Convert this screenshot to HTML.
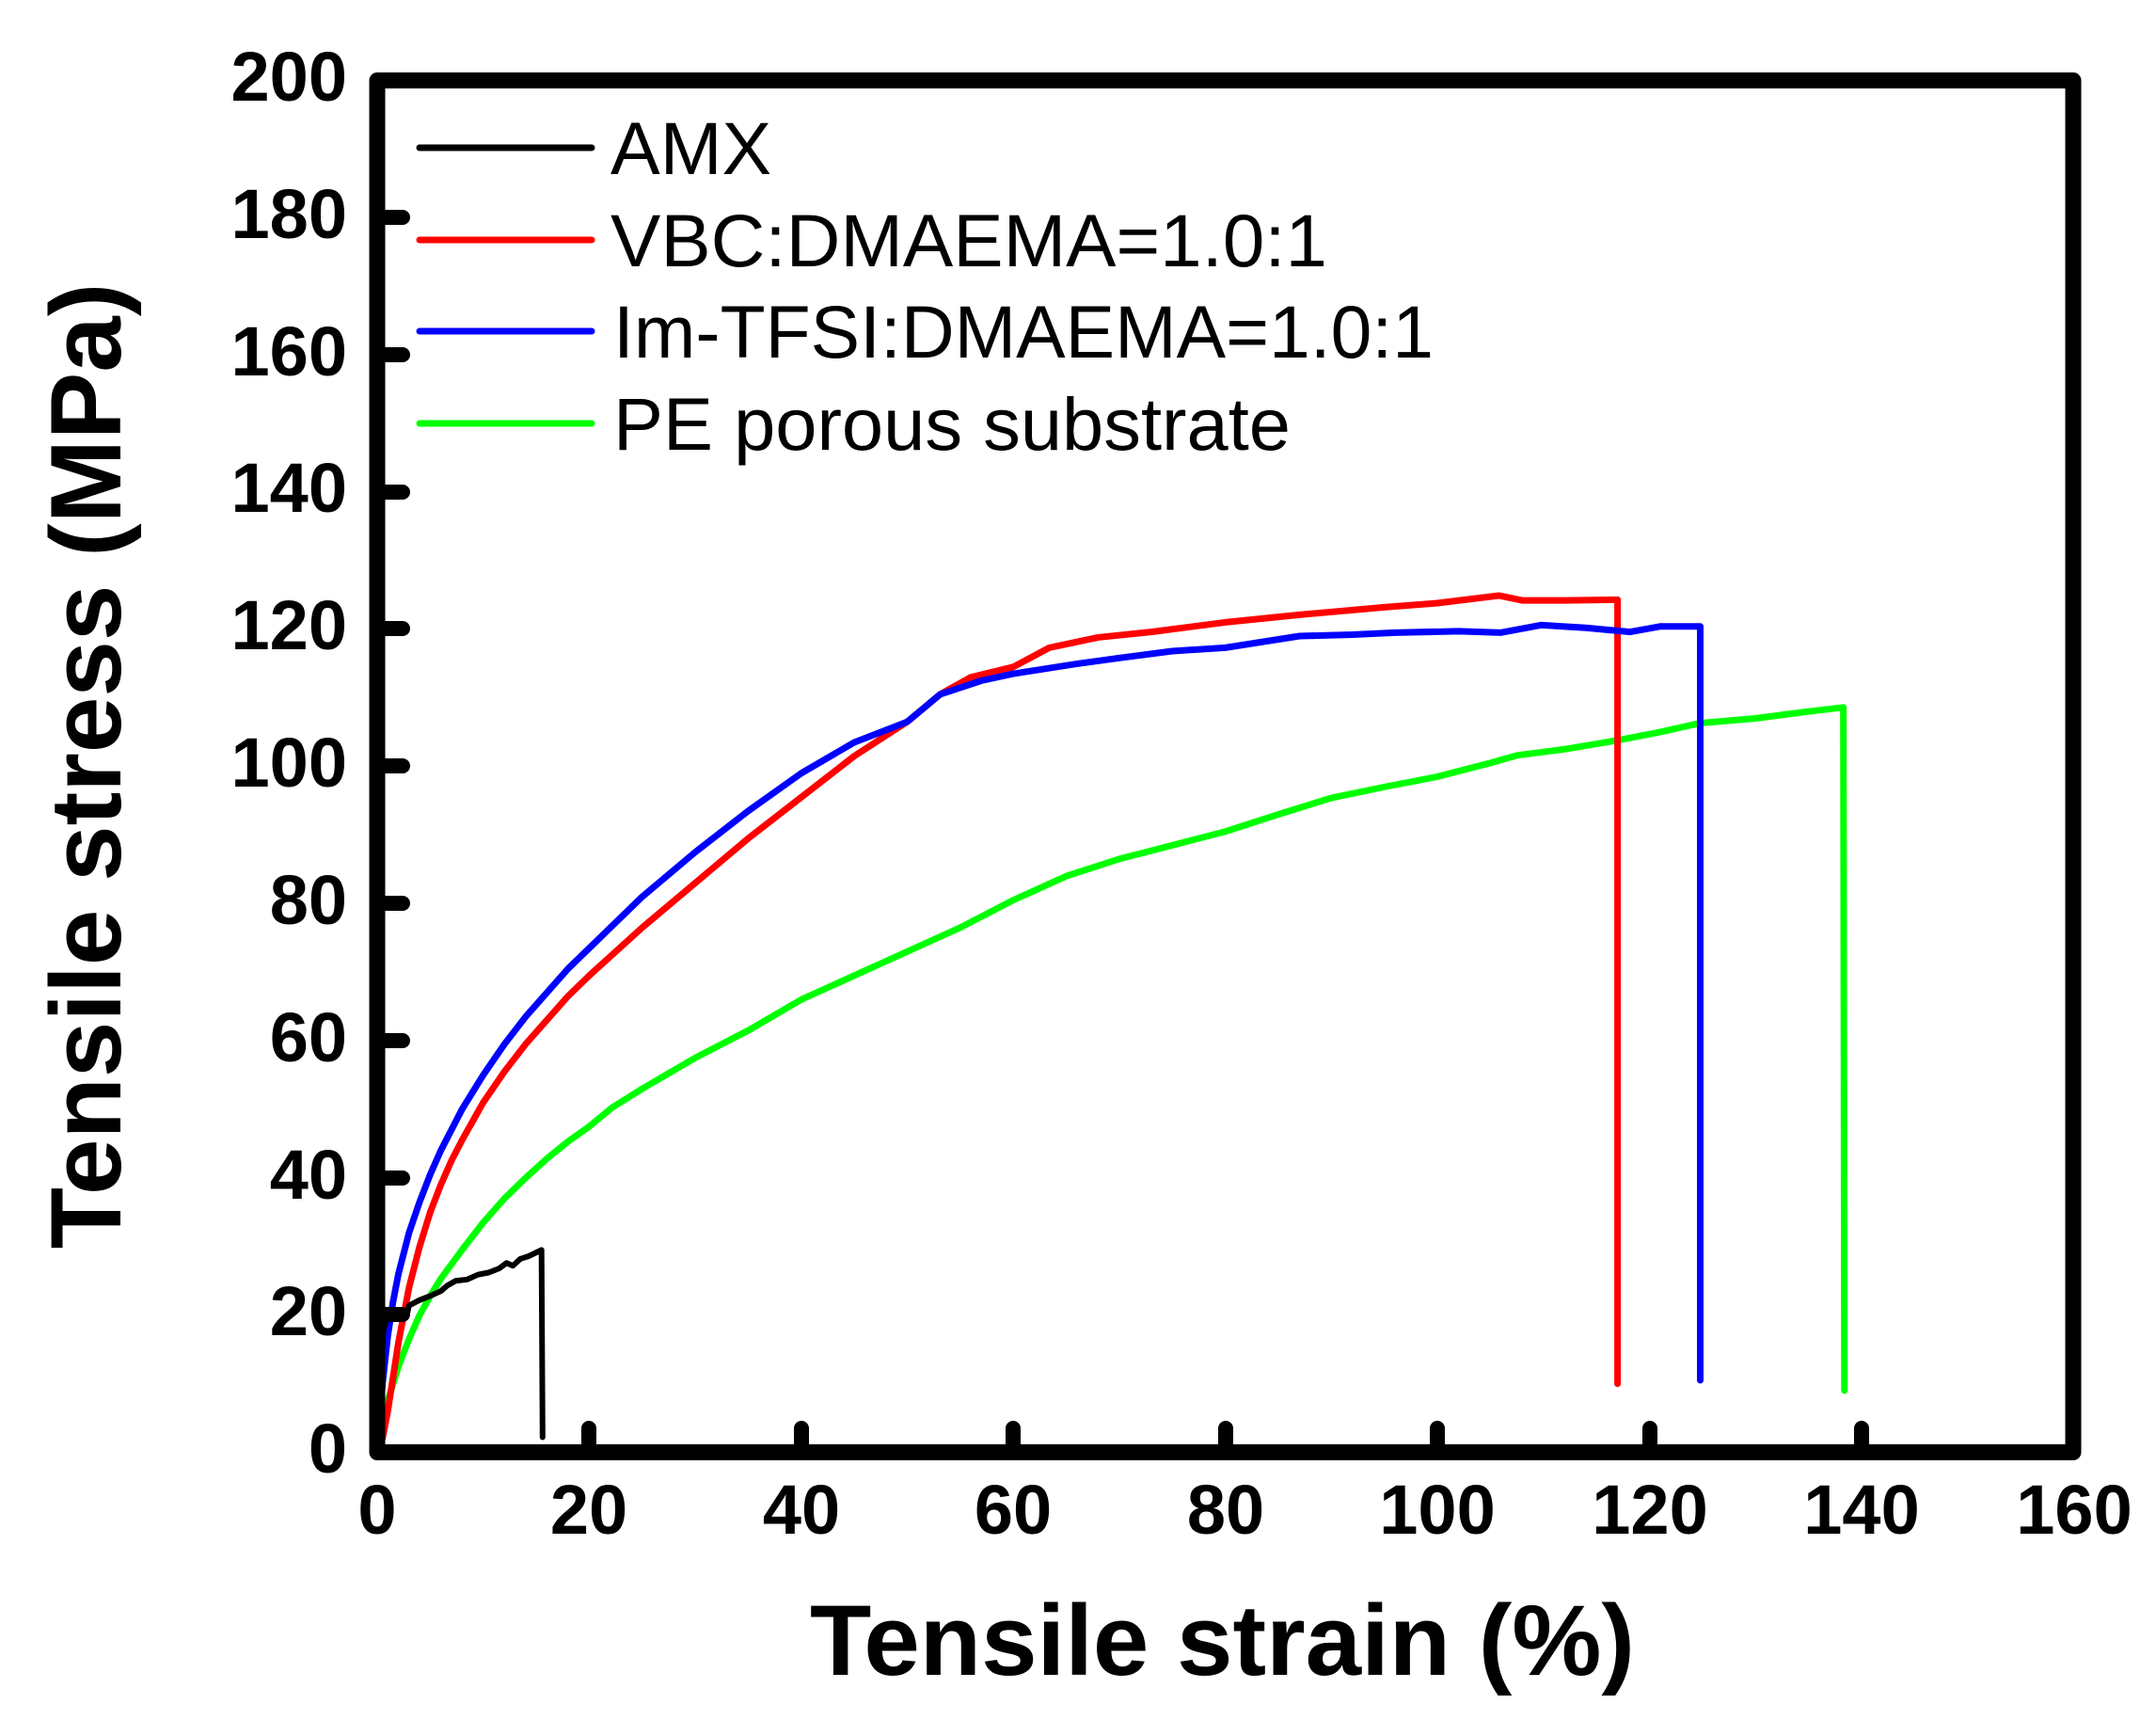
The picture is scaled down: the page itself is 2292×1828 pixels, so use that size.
<!DOCTYPE html>
<html><head><meta charset="utf-8"><style>html,body{margin:0;padding:0;background:#fff}svg{display:block}</style></head>
<body>
<svg width="2292" height="1828" viewBox="0 0 2292 1828" xmlns="http://www.w3.org/2000/svg">
<rect width="2292" height="1828" fill="#fff"/>
<g font-family="Liberation Sans, Arial, sans-serif" font-weight="bold" font-size="74" fill="#000" text-anchor="end">
<text x="369" y="107">200</text>
<text x="369" y="253">180</text>
<text x="369" y="399">160</text>
<text x="369" y="544">140</text>
<text x="369" y="690">120</text>
<text x="369" y="836">100</text>
<text x="369" y="982">80</text>
<text x="369" y="1128">60</text>
<text x="369" y="1274">40</text>
<text x="369" y="1419">20</text>
<text x="369" y="1565">0</text>
</g>
<g font-family="Liberation Sans, Arial, sans-serif" font-weight="bold" font-size="74" fill="#000" text-anchor="middle">
<text x="401" y="1630">0</text>
<text x="626" y="1630">20</text>
<text x="852" y="1630">40</text>
<text x="1077" y="1630">60</text>
<text x="1303" y="1630">80</text>
<text x="1528" y="1630">100</text>
<text x="1754" y="1630">120</text>
<text x="1979" y="1630">140</text>
<text x="2205" y="1630">160</text>
</g>
<text x="861" y="1780" font-family="Liberation Sans, Arial, sans-serif" font-weight="bold" font-size="107" textLength="877" lengthAdjust="spacingAndGlyphs">Tensile strain (%)</text>
<text transform="translate(128,814) rotate(-90)" text-anchor="middle" font-family="Liberation Sans, Arial, sans-serif" font-weight="bold" font-size="107">Tensile stress (MPa)</text>

<g stroke-width="7" stroke-linecap="round">
<line x1="446" y1="157" x2="629" y2="157" stroke="#000"/>
<line x1="446" y1="255" x2="629" y2="255" stroke="#ff0000"/>
<line x1="446" y1="352" x2="629" y2="352" stroke="#0000ff"/>
<line x1="446" y1="450" x2="629" y2="450" stroke="#00ff00"/>
</g>
<g font-family="Liberation Sans, Arial, sans-serif" font-size="79" fill="#000">
<text x="649" y="185">AMX</text>
<text x="649" y="283" textLength="762" lengthAdjust="spacingAndGlyphs">VBC:DMAEMA=1.0:1</text>
<text x="652" y="380" textLength="872" lengthAdjust="spacingAndGlyphs">Im-TFSI:DMAEMA=1.0:1</text>
<text x="652" y="478" textLength="720" lengthAdjust="spacingAndGlyphs">PE porous substrate</text>
</g>

<g transform="translate(401,1543.5) scale(11.27,-7.29)" fill="none" stroke-linejoin="round" stroke-linecap="round">
<polyline vector-effect="non-scaling-stroke" stroke="#00ff00" stroke-width="7" points="0,0 0.5,4 1,7.5 2,12.5 3,16.5 4,20 5,22.8 6,25.3 8,29.5 10,33.5 12,37 14,40 16,42.8 18,45.3 20,47.5 22.2,50.3 25,53 30,57.5 35,61.5 40,66 45,69.5 50,73 55,76.5 60,80.5 65,84 70,86.5 75,88.5 80,90.5 85,93 90,95.4 95,97 100,98.5 105,100.5 107.5,101.6 112,102.5 117,103.8 121,105 124.8,106.3 130,107 135,108 138.3,108.6 138.4,9"/>
<polyline vector-effect="non-scaling-stroke" stroke="#ff0000" stroke-width="7" points="0,0 0.5,2 1,6 1.5,11 2,16 3,24 4,30 5,35 6,39 7,42.5 8,45.5 10,51 12,55.5 14,59.5 16,63 18,66.5 20,69.5 25,76.5 30,83 35,89.5 40,95.5 45,101.5 50,106.5 53.1,110.5 56,113 60,114.5 63.4,117.3 68,118.8 73,119.6 80,121 87,122.1 95,123.2 100,123.8 105.8,124.9 108,124.2 112,124.2 117,124.3 117,10"/>
<polyline vector-effect="non-scaling-stroke" stroke="#0000ff" stroke-width="7" points="0,0 0.5,10 1,17 1.5,22 2,26 3,32 4,36.5 5,40.5 6,44 7,47 8,50 9,52.5 10,55 12,59.5 14,63.5 16,67 18,70.5 20,73.5 25,81 30,87.5 35,93.5 40,99 45,103.5 50,106.5 53.1,110.5 57,112.5 60,113.5 66.2,115 70,115.8 75,116.8 80,117.3 87,119 92,119.2 96,119.5 102,119.7 106,119.5 109.8,120.6 114,120.2 118.2,119.6 121,120.4 124.8,120.4 124.8,10.5"/>
<polyline vector-effect="non-scaling-stroke" stroke="#000" stroke-width="6" points="0,0 0.3,10 0.6,18 1,20 2,20.3 2.8,20 3,21.4 4,22.2 5,22.8 6,23.5 6.6,24.3 7.4,25 8.5,25.2 9.5,25.9 10.5,26.2 11.5,26.8 12.2,27.6 12.8,27.2 13.5,28.2 14.3,28.6 15.5,29.5 15.6,2.2"/>
</g>

<g stroke="#000" stroke-width="16" stroke-linecap="round">
<line x1="409" y1="231" x2="428" y2="231"/>
<line x1="409" y1="377" x2="428" y2="377"/>
<line x1="409" y1="523" x2="428" y2="523"/>
<line x1="409" y1="668" x2="428" y2="668"/>
<line x1="409" y1="814" x2="428" y2="814"/>
<line x1="409" y1="960" x2="428" y2="960"/>
<line x1="409" y1="1106" x2="428" y2="1106"/>
<line x1="409" y1="1252" x2="428" y2="1252"/>
<line x1="409" y1="1397" x2="428" y2="1397"/>
<line x1="626" y1="1535" x2="626" y2="1518"/>
<line x1="852" y1="1535" x2="852" y2="1518"/>
<line x1="1077" y1="1535" x2="1077" y2="1518"/>
<line x1="1303" y1="1535" x2="1303" y2="1518"/>
<line x1="1528" y1="1535" x2="1528" y2="1518"/>
<line x1="1754" y1="1535" x2="1754" y2="1518"/>
<line x1="1979" y1="1535" x2="1979" y2="1518"/>
</g>
<rect x="401" y="85.5" width="1803" height="1458" fill="none" stroke="#000" stroke-width="17" stroke-linejoin="round"/>
</svg>
</body></html>
